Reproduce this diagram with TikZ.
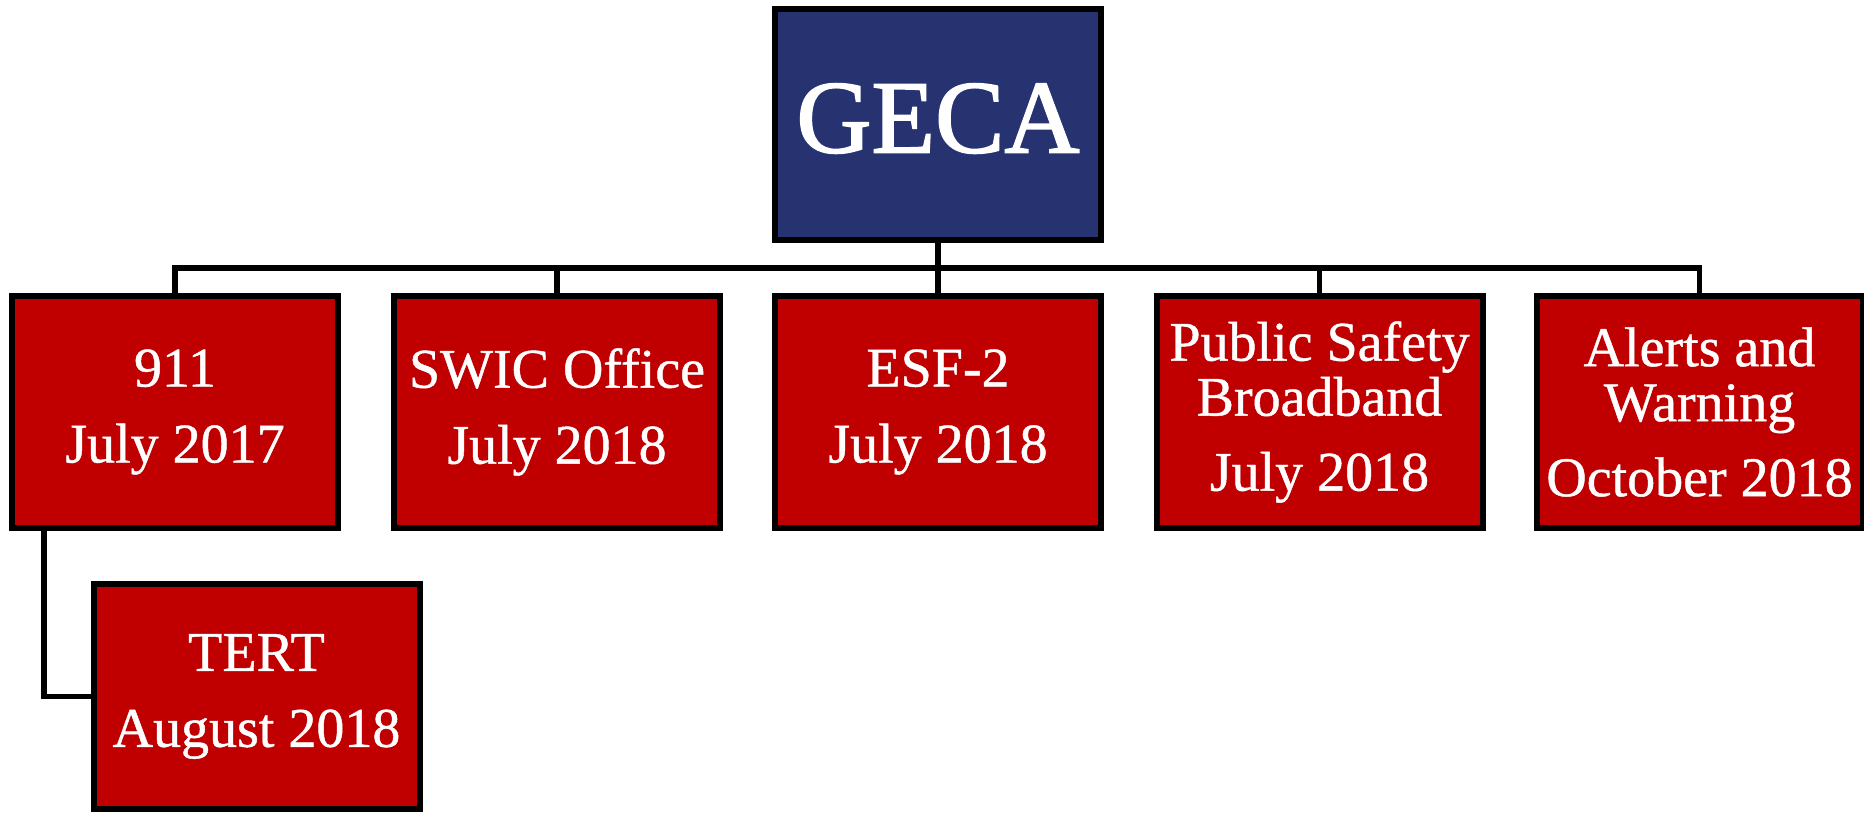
\documentclass[tikz,border=0pt]{standalone}
\usepackage{fontspec}
\setmainfont{Liberation Serif}
\newfontfamily\boxfont[FakeBold=0.8]{Liberation Serif}
\newfontfamily\topfont[FakeBold=1.6]{Liberation Serif}
\definecolor{navy}{RGB}{38,51,112}
\definecolor{boxred}{RGB}{192,0,0}
\tikzset{
  unitbox/.style={draw=black, line width=3pt, fill=boxred, text=white, align=center,
    minimum width=163pt, minimum height=116pt, inner sep=0pt,
    font=\boxfont\fontsize{28}{38}\selectfont},
  tallbox/.style={unitbox, font=\boxfont\fontsize{28}{27.5}\selectfont},
  topbox/.style={draw=black, line width=3pt, fill=navy, text=white,
    minimum width=163pt, minimum height=115.5pt, inner sep=0pt, text depth=6.5pt,
    font=\topfont\fontsize{52}{60}\selectfont},
  link/.style={draw=black, line width=2.6pt}
}
\begin{document}
\begin{tikzpicture}[x=0.5pt,y=-0.5pt]
\useasboundingbox (0,0) rectangle (1864,815);
\node[topbox] (geca) at (938,124.5) {GECA};
\node[unitbox] (n911) at (175,412) {911\\July 2017};
\node[unitbox] (swic) at (557,412) {SWIC Office\\July 2018};
\node[unitbox] (esf) at (938,412) {ESF-2\\July 2018};
\node[tallbox] (psb) at (1319.5,412) {Public Safety\\Broadband\\[10pt]July 2018};
\node[tallbox] (alerts) at (1699.5,412) {Alerts and\\Warning\\[10pt]October 2018};
\node[unitbox, minimum height=112.5pt] (tert) at (256.5,696.5) {TERT\\August 2018};
\coordinate (bus) at (938,268);
\coordinate (tertdrop) at (44,531);
\draw[link] (n911.north) |- (bus) -| (alerts.north);
\draw[link] (geca.south) -- (esf.north);
\draw[link] (swic.north) -- (swic.north |- bus);
\draw[link] (psb.north) -- (psb.north |- bus);
\draw[link] (tertdrop) |- (tert.west);
\end{tikzpicture}
\end{document}
